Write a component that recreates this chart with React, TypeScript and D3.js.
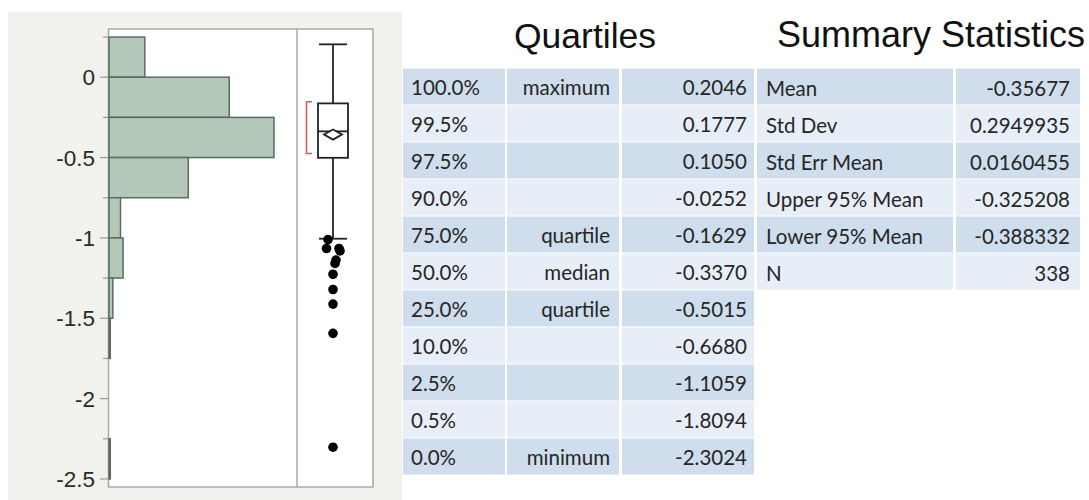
import React from "react";
import * as d3 from "d3";

// ---- Data ----
const binLower = [0, -0.25, -0.5, -0.75, -1, -1.25, -1.5, -1.75, -2, -2.25, -2.5];
const binCounts = [28, 94, 129, 62, 9, 11, 3, 1, 0, 0, 1];
const binWidth = 0.25;

const yTickValues = [0.25, 0, -0.25, -0.5, -0.75, -1, -1.25, -1.5, -1.75, -2, -2.25, -2.5];
const yTickLabels = ["0", "-0.5", "-1", "-1.5", "-2", "-2.5"];

const quantileLevels = ["100.0%", "99.5%", "97.5%", "90.0%", "75.0%", "50.0%", "25.0%", "10.0%", "2.5%", "0.5%", "0.0%"];
const quantileNames = ["maximum", "", "", "", "quartile", "median", "quartile", "", "", "", "minimum"];
const quantileValues = [0.2046, 0.1777, 0.105, -0.0252, -0.1629, -0.337, -0.5015, -0.668, -1.1059, -1.8094, -2.3024];

const summaryLabels = ["Mean", "Std Dev", "Std Err Mean", "Upper 95% Mean", "Lower 95% Mean", "N"];
const summaryValues = ["-0.35677", "0.2949935", "0.0160455", "-0.325208", "-0.388332", "338"];

const mean = -0.35677;
const upperCI = -0.325208;
const lowerCI = -0.388332;
const lowerWhisker = -1.005;
const shortestHalf = [-0.153, -0.475];

const outlierValues = [-1.01, -1.066, -1.066, -1.081, -1.138, -1.159, -1.226, -1.321, -1.412, -1.594, -2.3024];
const outlierJitter = [-5, -6.5, 6, 7, 3, 2, 0, 0, 0, 0, 0];

// ---- Layout ----
const W = 1089;
const H = 500;
const frame = { left: 108.5, right: 373, top: 29, bottom: 487, divider: 297 };
const boxCx = 333;
const boxHalf = 15;
const capHalf = 14;

const rowH = 37;
const tableTop = 68;
const qCols = [403, 505, 507, 619, 622, 754];
const sCols = [757, 953, 956, 1080];
const darkRow = "#cfdded";
const lightRow = "#e8eef7";
const textColor = "#262626";
const sans = "'Liberation Sans', Arial, sans-serif";
const tableFont = "Lato, 'Open Sans', sans-serif";

const fmtQ = (v: number) => v.toFixed(4);

export default function App() {
  const y = d3.scaleLinear().domain([0.3, -2.55]).range([frame.top, frame.bottom]);
  const x = d3.scaleLinear().domain([0, 147]).range([109, frame.divider]);

  const majorTick = (v: number) => Math.abs(Math.round(v * 2) - v * 2) < 1e-9;

  const q3 = quantileValues[4];
  const med = quantileValues[5];
  const q1 = quantileValues[6];
  const maxV = quantileValues[0];
  const ink = "#222";

  return (
    <div style={{ position: "absolute", left: 0, top: 0 }}>
      <svg width={W} height={H} style={{ display: "block", background: "#fff" }}>
        {/* left panel background */}
        <rect x={8} y={12} width={394} height={H - 12} fill="#f1f1ed" />
        <rect x={frame.left} y={frame.top} width={frame.right - frame.left} height={frame.bottom - frame.top} fill="#fff" stroke="#a9a9a9" strokeWidth={1.5} />
        <line x1={frame.divider} x2={frame.divider} y1={frame.top} y2={frame.bottom} stroke="#a9a9a9" strokeWidth={1.5} />

        {/* y ticks */}
        {yTickValues.map((v, i) => (
          <line key={"t" + i} x1={majorTick(v) && v <= 0 ? 100 : 103} x2={frame.left} y1={y(v)} y2={y(v)} stroke="#9a9a9a" strokeWidth={1.2} />
        ))}
        {yTickLabels.map((lab) => (
          <text key={lab} x={95} y={y(+lab)} dy="0.36em" textAnchor="end" fontFamily={sans} fontSize={22.5} fill="#2a2a2a">
            {lab}
          </text>
        ))}

        {/* histogram */}
        {binLower.map((lo, i) =>
          binCounts[i] > 0 ? (
            <rect
              key={"b" + i}
              x={x(0)}
              y={y(lo + binWidth)}
              width={x(binCounts[i]) - x(0)}
              height={y(lo) - y(lo + binWidth)}
              fill="#b3c8b8"
              stroke="#5d6b60"
              strokeWidth={1.5}
            />
          ) : null
        )}

        {/* shortest half bracket */}
        <path
          d={`M${312},${y(shortestHalf[0])}H${306.5}V${y(shortestHalf[1])}H${312}`}
          fill="none"
          stroke="#e8505b"
          strokeWidth={1.5}
        />

        {/* whiskers */}
        <line x1={boxCx} x2={boxCx} y1={y(maxV)} y2={y(q3)} stroke={ink} strokeWidth={1.8} />
        <line x1={boxCx} x2={boxCx} y1={y(q1)} y2={y(lowerWhisker)} stroke={ink} strokeWidth={1.8} />
        <line x1={boxCx - capHalf} x2={boxCx + capHalf} y1={y(maxV)} y2={y(maxV)} stroke={ink} strokeWidth={1.8} />
        <line x1={boxCx - capHalf} x2={boxCx + capHalf} y1={y(lowerWhisker)} y2={y(lowerWhisker)} stroke={ink} strokeWidth={1.8} />
        {/* box */}
        <rect x={boxCx - boxHalf} y={y(q3)} width={boxHalf * 2} height={y(q1) - y(q3)} fill="#fff" stroke={ink} strokeWidth={1.8} />
        <line x1={boxCx - boxHalf} x2={boxCx + boxHalf} y1={y(med)} y2={y(med)} stroke={ink} strokeWidth={1.8} />
        {/* mean diamond */}
        <path
          d={`M${boxCx - 9},${y(mean)}L${boxCx},${y(upperCI)}L${boxCx + 9},${y(mean)}L${boxCx},${y(lowerCI)}Z`}
          fill="#fff"
          stroke={ink}
          strokeWidth={1.8}
        />

        {/* outliers */}
        {outlierValues.map((v, i) => (
          <circle key={"o" + i} cx={boxCx + outlierJitter[i]} cy={y(v)} r={4.8} fill="#000" />
        ))}

        {/* titles */}
        <text x={585} y={48} textAnchor="middle" fontFamily={sans} fontSize={35.5} fill="#111">
          Quartiles
        </text>
        <text x={931} y={47} textAnchor="middle" fontFamily={sans} fontSize={36} fill="#111">
          Summary Statistics
        </text>

        {/* quartile table */}
        {quantileLevels.map((lev, i) => {
          const top = tableTop + i * rowH;
          const fill = i % 2 === 0 ? darkRow : lightRow;
          return (
            <g key={"q" + i}>
              <rect x={qCols[0]} y={top + 0.5} width={qCols[1] - qCols[0]} height={rowH - 1} fill={fill} />
              <rect x={qCols[2]} y={top + 0.5} width={qCols[3] - qCols[2]} height={rowH - 1} fill={fill} />
              <rect x={qCols[4]} y={top + 0.5} width={qCols[5] - qCols[4]} height={rowH - 1} fill={fill} />
              <text x={411} y={top + 27} fontFamily={tableFont} fontSize={20.5} fill={textColor}>
                {lev}
              </text>
              <text x={610} y={top + 27} textAnchor="end" fontFamily={tableFont} fontSize={20.5} fill={textColor}>
                {quantileNames[i]}
              </text>
              <text x={747} y={top + 27} textAnchor="end" fontFamily={tableFont} fontSize={20.5} fill={textColor}>
                {fmtQ(quantileValues[i])}
              </text>
            </g>
          );
        })}

        {/* summary table */}
        {summaryLabels.map((lab, i) => {
          const top = tableTop + i * rowH;
          const fill = i % 2 === 0 ? darkRow : lightRow;
          return (
            <g key={"s" + i}>
              <rect x={sCols[0]} y={top + 0.5} width={sCols[1] - sCols[0]} height={rowH - 1} fill={fill} />
              <rect x={sCols[2]} y={top + 0.5} width={sCols[3] - sCols[2]} height={rowH - 1} fill={fill} />
              <text x={766} y={top + 28} fontFamily={tableFont} fontSize={20.5} fill={textColor}>
                {lab}
              </text>
              <text x={1070} y={top + 28} textAnchor="end" fontFamily={tableFont} fontSize={20.5} fill={textColor}>
                {summaryValues[i]}
              </text>
            </g>
          );
        })}
      </svg>
    </div>
  );
}
